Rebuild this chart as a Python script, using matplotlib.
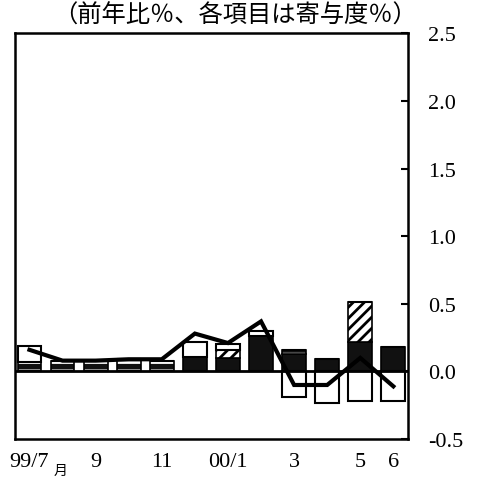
import numpy as np
import matplotlib
matplotlib.use("Agg")
import matplotlib.pyplot as plt

# months 99/7 .. 00/6
months = np.arange(12)
tick_pos = [0, 2, 4, 6, 8, 10, 11]
tick_labels = ["99/7", "9", "11", "00/1", "3", "5", "6"]

# contributions (% points)
dark = [0.00, 0.00, 0.00, 0.00, 0.00, 0.11, 0.10, 0.26, 0.13, 0.09, 0.22, 0.18]
stripe = [0.07, 0.08, 0.08, 0.09, 0.08, 0.00, 0.00, 0.00, 0.03, 0.00, 0.00, 0.00]
hatched = [0.00, 0.00, 0.00, 0.00, 0.00, 0.00, 0.06, 0.00, 0.00, 0.00, 0.29, 0.00]
white = [0.12, 0.00, 0.00, 0.00, 0.00, 0.11, 0.04, 0.04, 0.00, 0.00, 0.00, 0.00]
white_neg = [0.00, 0.00, 0.00, 0.00, 0.00, 0.00, 0.00, 0.00, -0.19, -0.23, -0.22, -0.22]
# total, year on year %
total = [0.16, 0.08, 0.08, 0.09, 0.09, 0.28, 0.21, 0.37, -0.10, -0.10, 0.10, -0.11]

num_font = "Liberation Serif"
plt.rcParams["hatch.linewidth"] = 2.0

fig = plt.figure(figsize=(4.86, 4.89), dpi=100)
ax = fig.add_axes([0.03, 0.10, 0.81, 0.83])

w = 0.72
bottom = np.zeros(12)

ax.bar(months, dark, w, bottom=bottom, color="#111111", edgecolor="black", linewidth=1.2, zorder=2)
bottom += dark

# black bars with white dashes
with plt.rc_context({"hatch.color": "white"}):
    ax.bar(months, stripe, w, bottom=bottom, color="#111111", hatch="--", linewidth=0, zorder=2)
ax.bar(months, stripe, w, bottom=bottom, fill=False, edgecolor="black", linewidth=1.2, zorder=2)
bottom += stripe

ax.bar(months, hatched, w, bottom=bottom, color="white", edgecolor="black", hatch="///", linewidth=1.2, zorder=2)
bottom += hatched

ax.bar(months, white, w, bottom=bottom, color="white", edgecolor="black", linewidth=1.5, zorder=2)
ax.bar(months, white_neg, w, bottom=0, color="white", edgecolor="black", linewidth=1.5, zorder=2)

ax.axhline(0, color="black", linewidth=2.0, zorder=3)
ax.plot(months, total, color="black", linewidth=3.0, solid_joinstyle="miter", zorder=4)

ax.set_xlim(-0.45, 11.45)
ax.set_ylim(-0.5, 2.5)

for s in ax.spines.values():
    s.set_linewidth(1.8)

ax.yaxis.tick_right()
ax.set_yticks(np.arange(-0.5, 2.51, 0.5))
ax.set_yticklabels(["%.1f" % v for v in np.arange(-0.5, 2.51, 0.5)])
ax.tick_params(axis="y", direction="in", length=5, width=1.5, pad=14, labelsize=16)
ax.set_xticks(tick_pos)
ax.set_xticklabels(tick_labels)
ax.tick_params(axis="x", length=0, pad=9, labelsize=16)
for lab in ax.get_xticklabels() + ax.get_yticklabels():
    lab.set_fontfamily(num_font)

fig.text(0.124, 0.036, "月", fontsize=10, family="Noto Sans CJK JP", ha="center", va="center")
fig.text(0.484, 0.968, "（前年比％、各項目は寄与度％）", fontsize=17.5,
         family=["Noto Sans CJK JP", "DejaVu Sans"], ha="center", va="center")

fig.savefig("out.png", dpi=100)
